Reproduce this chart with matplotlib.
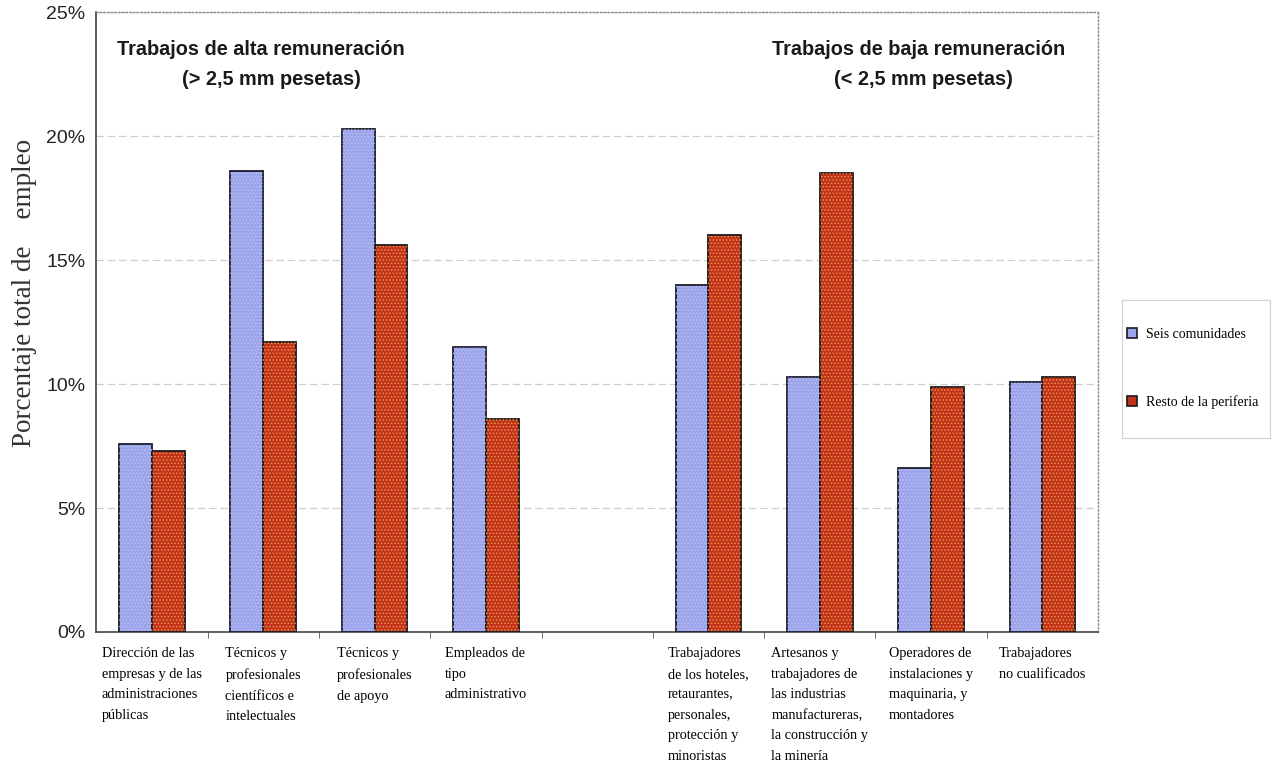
import numpy as np
import matplotlib.pyplot as plt
from matplotlib.patches import Patch, Rectangle

plt.rcParams['hatch.linewidth'] = 0.7

categorias = [
    "Dirección de las\nempresas y de las\nadministraciones\npúblicas",
    "Técnicos y\nprofesionales\ncientíficos e\nintelectuales",
    "Técnicos y\nprofesionales\nde apoyo",
    "Empleados de\ntipo\nadministrativo",
    "Trabajadores\nde los hoteles,\nretaurantes,\npersonales,\nprotección y\nminoristas",
    "Artesanos y\ntrabajadores de\nlas industrias\nmanufactureras,\nla construcción y\nla minería",
    "Operadores de\ninstalaciones y\nmaquinaria, y\nmontadores",
    "Trabajadores\nno cualificados",
]
seis_comunidades = [7.6, 18.6, 20.3, 11.5, 14.0, 10.3, 6.6, 10.1]
resto_periferia = [7.3, 11.7, 15.6, 8.6, 16.0, 18.5, 9.9, 10.3]
yticks = [0, 5, 10, 15, 20, 25]

serif = 'Liberation Serif'
sans = 'Liberation Sans'

fig = plt.figure(figsize=(12.76, 7.66), dpi=100)
ax = fig.add_axes([0.0755, 0.175, 0.785, 0.809])

# hueco entre alta y baja remuneracion
idx = np.arange(len(categorias))
x = idx + (idx >= 4)
w = 0.295

azul = '#9da5ea'
rojo = '#c0321c'
ax.bar(x - w / 2, seis_comunidades, w, color=azul, edgecolor='#1a1a2a', linewidth=1.3, zorder=3)
ax.bar(x + w / 2, resto_periferia, w, color=rojo, edgecolor='#1a1a1a', linewidth=1.3, zorder=3)
# textura punteada
ax.bar(x - w / 2, seis_comunidades, w, color='none', edgecolor='#b8bef2', hatch='.....', linewidth=0, zorder=4)
ax.bar(x + w / 2, resto_periferia, w, color='none', edgecolor='#ec9240', hatch='.....', linewidth=0, zorder=4)

ax.set_xlim(-0.5, 8.5)
ax.set_ylim(0, 25)
ax.set_yticks(yticks)
ax.set_yticklabels([f'{v}%' for v in yticks], fontfamily=sans, fontsize=14, color='#222222')
ax.tick_params(axis='y', length=0, pad=8)

ax.set_xticks(x)
ax.set_xticklabels(categorias, fontfamily=serif, fontsize=10.3, ha='center',
                   multialignment='left', linespacing=1.75, va='top')
ax.tick_params(axis='x', length=0, pad=11)
ax.set_xticks(np.arange(0.5, 8.5, 1), minor=True)
ax.tick_params(axis='x', which='minor', length=4, color='#555555')

ax.grid(axis='y', color='#cfcfcf', linestyle=(0, (6, 3)), linewidth=0.9, zorder=0)

for side in ['left', 'bottom']:
    ax.spines[side].set_color('#444444')
    ax.spines[side].set_linewidth(1.2)
for side in ['top', 'right']:
    ax.spines[side].set_color('#8a8a8a')
    ax.spines[side].set_linestyle(':')
    ax.spines[side].set_linewidth(1.0)

fig.text(25 / 1276, 1 - 293 / 766, 'Porcentaje total de    empleo', fontfamily=serif,
         fontsize=19.5, color='#333333', rotation=90, ha='center', va='center')

ax.text(0.98, 23.5, 'Trabajos de alta remuneración', fontfamily=sans, fontweight='bold',
        fontsize=14.3, ha='center', va='center', color='#1a1a1a')
ax.text(1.07, 22.3, '(> 2,5 mm pesetas)', fontfamily=sans, fontweight='bold',
        fontsize=14.3, ha='center', va='center', color='#1a1a1a')
ax.text(6.89, 23.5, 'Trabajos de baja remuneración', fontfamily=sans, fontweight='bold',
        fontsize=14.3, ha='center', va='center', color='#1a1a1a')
ax.text(6.93, 22.3, '(< 2,5 mm pesetas)', fontfamily=sans, fontweight='bold',
        fontsize=14.3, ha='center', va='center', color='#1a1a1a')

# leyenda con marco propio
handles = [
    Patch(facecolor=azul, edgecolor='#1a1a2a', linewidth=1.2),
    Patch(facecolor=rojo, edgecolor='#1a1a1a', linewidth=1.2),
]
fig.legend(handles, ['Seis comunidades', 'Resto de la periferia'],
           loc='upper left', bbox_to_anchor=(1127 / 1276, 1 - 328 / 766),
           prop={'family': serif, 'size': 10}, frameon=False,
           handlelength=0.75, handleheight=0.75, handletextpad=0.6,
           labelspacing=3.9, borderpad=0, borderaxespad=0)
fig.patches.append(Rectangle((1122 / 1276, 1 - 438 / 766), 148 / 1276, 138 / 766,
                             transform=fig.transFigure, fill=False,
                             edgecolor='#d4d4d4', linewidth=0.9))

fig.savefig('out.png', dpi=100)
